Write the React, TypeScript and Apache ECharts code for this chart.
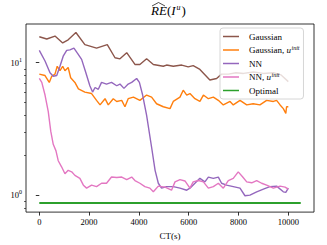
import React, { useEffect, useRef } from "react";
import * as echarts from "echarts";

const xTicks = [0, 2000, 4000, 6000, 8000, 10000];
const yMajorTicks = [1, 10];
const yMinorTicks = [0.8, 0.9, 2, 3, 4, 5, 6, 7, 8, 9];

const gaussianCT = [0, 300, 630, 940, 1160, 1470, 1830, 2300, 2730, 3040, 3240, 3510, 3840, 4040, 4310, 4580, 4980, 5110, 5380, 5720, 5980, 6180, 6450, 6850, 7120, 7320, 7600, 7900, 8200, 8600, 9000, 9400, 9700, 10000];
const gaussianRE = [15.7, 15.1, 15.9, 14.1, 14.9, 16.9, 13.7, 12.9, 13.7, 10.9, 10.7, 11.9, 9.7, 9.7, 10.7, 9.7, 9.4, 9.6, 9.4, 9.6, 9.3, 9.5, 8.9, 7.4, 7.6, 8.2, 8.2, 8.4, 8.3, 8.5, 8.3, 8.4, 8.1, 7.2];

const gaussInitCT = [0, 230, 400, 500, 630, 720, 830, 940, 1030, 1160, 1260, 1430, 1570, 1830, 2100, 2300, 2440, 2640, 2770, 2970, 3110, 3310, 3440, 3570, 3780, 4040, 4310, 4510, 4710, 4980, 5250, 5380, 5650, 5780, 5920, 6050, 6250, 6450, 6590, 6790, 6990, 7190, 7390, 7660, 7790, 8060, 8330, 8590, 8860, 9130, 9400, 9530, 9670, 9800, 9900, 9930, 10000];
const gaussInitRE = [8.2, 8.0, 7.1, 7.9, 8.2, 9.4, 8.7, 9.4, 8.7, 9.2, 7.7, 7.1, 6.35, 6.0, 5.85, 5.2, 4.8, 5.35, 4.8, 5.35, 5.1, 5.2, 4.65, 5.35, 5.5, 5.2, 5.7, 5.5, 4.9, 4.65, 4.5, 5.1, 5.5, 6.2, 5.7, 5.85, 5.35, 5.1, 5.7, 5.35, 5.5, 5.2, 4.8, 5.1, 4.8, 5.2, 4.8, 4.9, 4.8, 5.2, 5.1, 5.2, 4.8, 4.5, 4.15, 4.65, 4.65];

const nnCT = [0, 230, 430, 560, 700, 830, 960, 1100, 1230, 1390, 1530, 1700, 1870, 2030, 2140, 2240, 2370, 2500, 2700, 2900, 3110, 3240, 3400, 3570, 3710, 3910, 4020, 4150, 4310, 4510, 4650, 4780, 4910, 5110, 5380, 5650, 5920, 6050, 6250, 6450, 6650, 6790, 6990, 7190, 7320, 7520, 7790, 8060, 8260, 8460, 8730, 9000, 9260, 9530, 9800, 9900, 10000];
const nnRE = [12.4, 10.3, 8.4, 7.9, 8.0, 9.4, 11.2, 12.4, 12.5, 12.9, 11.8, 10.6, 8.4, 6.7, 6.0, 6.5, 6.3, 7.1, 6.9, 7.1, 6.7, 6.9, 6.4, 6.9, 7.1, 7.6, 7.1, 5.7, 4.0, 2.3, 1.54, 1.23, 1.13, 1.16, 1.16, 1.13, 1.09, 1.13, 1.23, 1.34, 1.26, 1.37, 1.34, 1.37, 1.23, 1.19, 1.16, 1.13, 0.99, 1.0, 1.06, 1.11, 1.16, 1.17, 1.06, 1.05, 1.13];

const nnInitCT = [0, 100, 230, 360, 460, 560, 670, 760, 900, 1030, 1160, 1300, 1430, 1630, 1770, 1900, 2100, 2300, 2500, 2700, 2900, 3110, 3310, 3510, 3710, 3840, 4040, 4240, 4440, 4580, 4780, 5050, 5310, 5450, 5650, 5850, 6050, 6180, 6390, 6590, 6790, 6990, 7190, 7390, 7590, 7790, 7990, 8170, 8330, 8530, 8730, 8930, 9130, 9400, 9670, 9870, 10000];
const nnInitRE = [7.6, 7.1, 5.7, 4.27, 3.04, 2.42, 2.16, 1.82, 1.63, 1.45, 1.54, 1.5, 1.41, 1.34, 1.19, 1.13, 1.19, 1.16, 1.23, 1.23, 1.37, 1.36, 1.37, 1.31, 1.37, 1.29, 1.23, 1.16, 1.13, 1.06, 1.17, 1.15, 1.09, 1.26, 1.31, 1.28, 1.13, 1.26, 1.29, 1.26, 1.13, 1.16, 1.23, 1.13, 1.29, 1.34, 1.5, 1.37, 1.26, 1.24, 1.29, 1.23, 1.19, 1.13, 1.17, 1.15, 1.11];

const optimalCT = [0, 10500];
const optimalRE = [0.873, 0.873];

const seriesNames = ["Gaussian", "Gaussian, u^init", "NN", "NN, u^init", "Optimal"];
const seriesColors = ["#8c564b", "#ff7f0e", "#9467bd", "#e377c2", "#2ca02c"];

const zip = (xs: number[], ys: number[]) => xs.map((x, i) => [x, ys[i]]);

const FONT = "Liberation Serif";

export default function App() {
  const ref = useRef<HTMLDivElement>(null);
  useEffect(() => {
    if (!ref.current) return;
    const chart = echarts.init(ref.current, undefined, { renderer: "svg" });
    const datasets = [
      zip(gaussianCT, gaussianRE),
      zip(gaussInitCT, gaussInitRE),
      zip(nnCT, nnRE),
      zip(nnInitCT, nnInitRE),
      zip(optimalCT, optimalRE),
    ];
    const grid = { left: 26, right: 13, top: 24, bottom: 29, show: true, borderColor: "#000", borderWidth: 0.8, backgroundColor: "transparent" };
    const yCommon = {
      type: "log" as const,
      logBase: 10,
      min: 0.745,
      max: 19.6,
      splitLine: { show: false },
      axisLine: { show: false },
    };
    const txt = { fontFamily: FONT, fontWeight: "normal" as const, color: "#000" };
    chart.setOption({
      animation: false,
      textStyle: { fontFamily: FONT },
      graphic: [
        {
          type: "text",
          x: 151,
          y: 3,
          style: {
            text: "{it|RE}{n|(}{it|I}{sup|u}{n|)}",
            fill: "#000",
            font: "normal 13px " + FONT,
            rich: {
              n: { fontFamily: FONT, fontWeight: "normal", fill: "#000", fontSize: 13, lineHeight: 15 },
              it: { fontFamily: FONT, fontWeight: "normal", fill: "#000", fontStyle: "italic", fontSize: 13, lineHeight: 15 },
              sup: { fontFamily: FONT, fontWeight: "normal", fill: "#000", fontStyle: "italic", fontSize: 8, lineHeight: 15, verticalAlign: "top", padding: [0, 1, 0, 1] },
            },
          },
        },
        {
          type: "polyline",
          shape: { points: [[152, 6], [158.5, 2.5], [165, 6]] },
          style: { stroke: "#000", lineWidth: 0.7, fill: "none" },
        },
      ],
      grid,
      legend: {
        orient: "vertical",
        left: 220,
        top: 28,
        width: 89,
        padding: [3, 4, 3, 3],
        itemGap: 2.5,
        itemWidth: 16,
        itemHeight: 11,
        backgroundColor: "rgba(255,255,255,0.8)",
        borderColor: "#cccccc",
        borderWidth: 0.8,
        borderRadius: 3,
        data: seriesNames.map((n, i) => ({
          name: n,
          icon: "path://M0,5 L16,5 L16,6.5 L0,6.5 Z",
          itemStyle: { color: seriesColors[i] },
        })),
        formatter: (name: string) =>
          name.includes("^init") ? "{n|" + name.replace(" u^init", " ") + "}{it|u}{sup|init}" : name,
        textStyle: {
          ...txt,
          fontSize: 9,
          lineHeight: 11,
          padding: [0, 0, 0, 5],
          rich: {
            n: { ...txt, fontSize: 9, lineHeight: 11 },
            it: { ...txt, fontStyle: "italic", fontSize: 9, lineHeight: 11 },
            sup: { ...txt, fontStyle: "italic", fontSize: 6, lineHeight: 11, verticalAlign: "top", padding: [0, 0, 0, 0.5] },
          },
        },
      },
      xAxis: {
        type: "value",
        min: -534,
        max: 11032,
        name: "CT(s)",
        nameLocation: "middle",
        nameGap: 18,
        nameTextStyle: { ...txt, fontSize: 9 },
        axisLine: { show: false },
        splitLine: { show: false },
        axisTick: { show: true, length: 3.5, lineStyle: { color: "#000", width: 0.8 }, customValues: xTicks },
        axisLabel: { ...txt, fontSize: 8.5, margin: 5, customValues: xTicks, formatter: (v: number) => String(Math.round(v)) },
      },
      yAxis: [
        {
          ...yCommon,
          axisTick: { show: true, length: 3.5, lineStyle: { color: "#000", width: 0.8 }, customValues: yMajorTicks },
          axisLabel: {
            ...txt,
            fontSize: 8.5,
            margin: 4,
            customValues: yMajorTicks,
            formatter: (v: number) => (Math.abs(v - 1) < 1e-6 ? "{n|10}{sup|0}" : "{n|10}{sup|1}"),
            rich: {
              n: { ...txt, fontSize: 8.5, lineHeight: 12 },
              sup: { ...txt, fontSize: 6, lineHeight: 12, verticalAlign: "top" },
            },
          },
        },
        {
          ...yCommon,
          axisTick: { show: true, length: 2, lineStyle: { color: "#000", width: 0.6 }, customValues: yMinorTicks },
          axisLabel: { show: false },
          position: "left",
        },
      ],
      series: datasets.map((d, i) => ({
        type: "line",
        name: seriesNames[i],
        data: d,
        yAxisIndex: 0,
        showSymbol: false,
        symbol: "none",
        lineStyle: { color: seriesColors[i], width: i === 4 ? 2 : 1.4 },
        itemStyle: { color: seriesColors[i] },
        z: i === 4 ? 1 : 2,
      })),
    });
    return () => chart.dispose();
  }, []);
  return (
    <div
      ref={ref}
      style={{ position: "fixed", left: 0, top: 0, width: 327, height: 245, background: "#fff" }}
    />
  );
}
